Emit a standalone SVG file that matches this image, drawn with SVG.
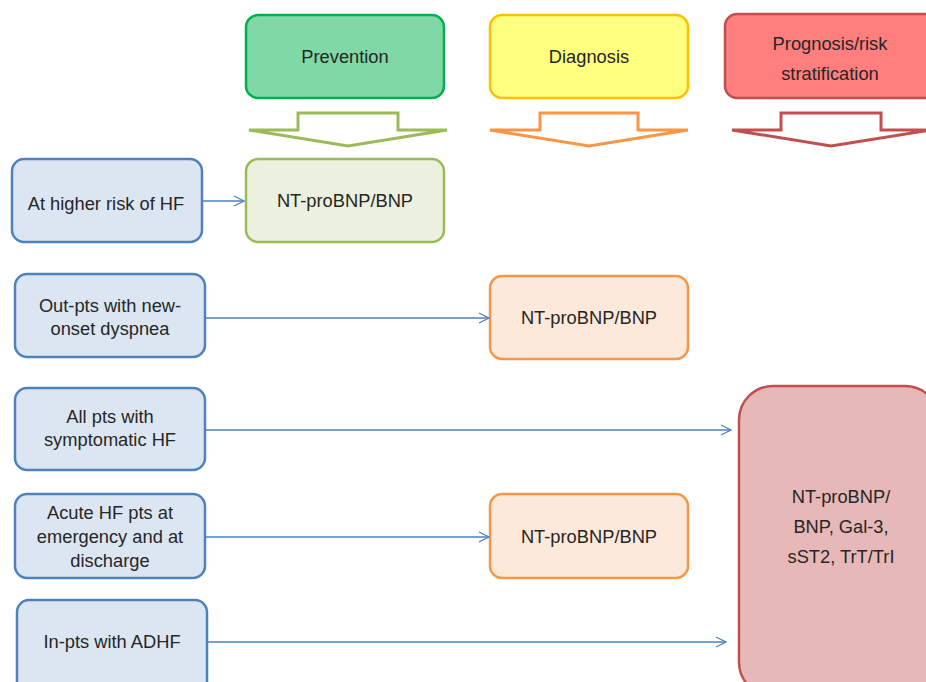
<svg xmlns="http://www.w3.org/2000/svg" width="926" height="682" viewBox="0 0 926 682">
<defs>
<style>
text{font-family:"Liberation Sans",Arial,sans-serif;font-size:18.3px;fill:#262626;text-anchor:middle}
.blue{fill:#dce6f2;stroke:#4f81bd;stroke-width:2.5}
.conn line{stroke:#4f81bd;stroke-width:1.3;fill:none}
.ba{fill:#fff;stroke-width:3;stroke-linejoin:miter}
</style>
<marker id="ah" viewBox="0 0 12 12" refX="11" refY="6" markerWidth="12" markerHeight="12" markerUnits="userSpaceOnUse" orient="auto">
<path d="M1,1 L11,6 L1,11" fill="none" stroke="#4f81bd" stroke-width="1.3"/>
</marker>
</defs>
<rect width="926" height="682" fill="#fff"/>

<g id="prevention">
<rect x="246" y="15" width="198" height="83" rx="12" fill="#80d8a6" stroke="#00b050" stroke-width="2.5"/>
<text x="345" y="63">Prevention</text>
</g>
<g id="diagnosis">
<rect x="490" y="15" width="198" height="83" rx="12" fill="#ffff80" stroke="#ffc000" stroke-width="2.5"/>
<text x="589" y="63">Diagnosis</text>
</g>
<g id="prognosis">
<rect x="725" y="14" width="215" height="84" rx="12" fill="#ff7f7f" stroke="#c0504d" stroke-width="2.5"/>
<text x="830" y="50">Prognosis/risk</text>
<text x="830" y="80">stratification</text>
</g>

<g id="arrow-prevention">
<path class="ba" d="M298,113 L398,113 L398,130 L447,130 L348,146 L249,130 L298,130 Z" stroke="#9bbb59"/>
</g>
<g id="arrow-diagnosis">
<path class="ba" d="M540,113 L638,113 L638,130 L688,130 L589,146 L490,130 L540,130 Z" stroke="#f79646"/>
</g>
<g id="arrow-prognosis">
<path class="ba" d="M781,113 L881,113 L881,130 L930,130 L831,146 L732,130 L781,130 Z" stroke="#c0504d"/>
</g>

<g id="higher-risk">
<rect class="blue" x="12" y="159" width="190" height="83" rx="12"/>
<text x="106" y="210">At higher risk of HF</text>
</g>
<g id="out-pts">
<rect class="blue" x="15" y="274" width="190" height="83" rx="12"/>
<text x="110" y="312">Out-pts with new-</text>
<text x="110" y="335">onset dyspnea</text>
</g>
<g id="all-pts">
<rect class="blue" x="15" y="388" width="190" height="82" rx="12"/>
<text x="110" y="423">All pts with</text>
<text x="110" y="446">symptomatic HF</text>
</g>
<g id="acute">
<rect class="blue" x="15" y="494" width="190" height="84" rx="12"/>
<text x="110" y="519">Acute HF pts at</text>
<text x="110" y="543">emergency and at</text>
<text x="110" y="567">discharge</text>
</g>
<g id="in-pts">
<rect class="blue" x="17" y="600" width="190" height="95" rx="12"/>
<text x="112" y="648">In-pts with ADHF</text>
</g>

<g id="nt-prevention">
<rect x="246" y="159" width="198" height="83" rx="12" fill="#ebf1de" stroke="#9bbb59" stroke-width="2.5"/>
<text x="345" y="207">NT-proBNP/BNP</text>
</g>
<g id="nt-diagnosis-1">
<rect x="490" y="276" width="198" height="83" rx="12" fill="#fde9d9" stroke="#f79646" stroke-width="2.5"/>
<text x="589" y="324">NT-proBNP/BNP</text>
</g>
<g id="nt-diagnosis-2">
<rect x="490" y="494" width="198" height="84" rx="12" fill="#fde9d9" stroke="#f79646" stroke-width="2.5"/>
<text x="589" y="543">NT-proBNP/BNP</text>
</g>
<g id="prognosis-markers">
<rect x="739" y="386" width="200" height="310" rx="34" fill="#e6b9b8" stroke="#c0504d" stroke-width="2.5"/>
<text x="841" y="503">NT-proBNP/</text>
<text x="841" y="533">BNP, Gal-3,</text>
<text x="841" y="563">sST2, TrT/TrI</text>
</g>

<g id="connectors" class="conn">
<line x1="202" y1="201" x2="244" y2="201" marker-end="url(#ah)"/>
<line x1="205" y1="318" x2="489" y2="318" marker-end="url(#ah)"/>
<line x1="205" y1="430" x2="731" y2="430" marker-end="url(#ah)"/>
<line x1="205" y1="537" x2="489" y2="537" marker-end="url(#ah)"/>
<line x1="207" y1="642" x2="726" y2="642" marker-end="url(#ah)"/>
</g>
</svg>
